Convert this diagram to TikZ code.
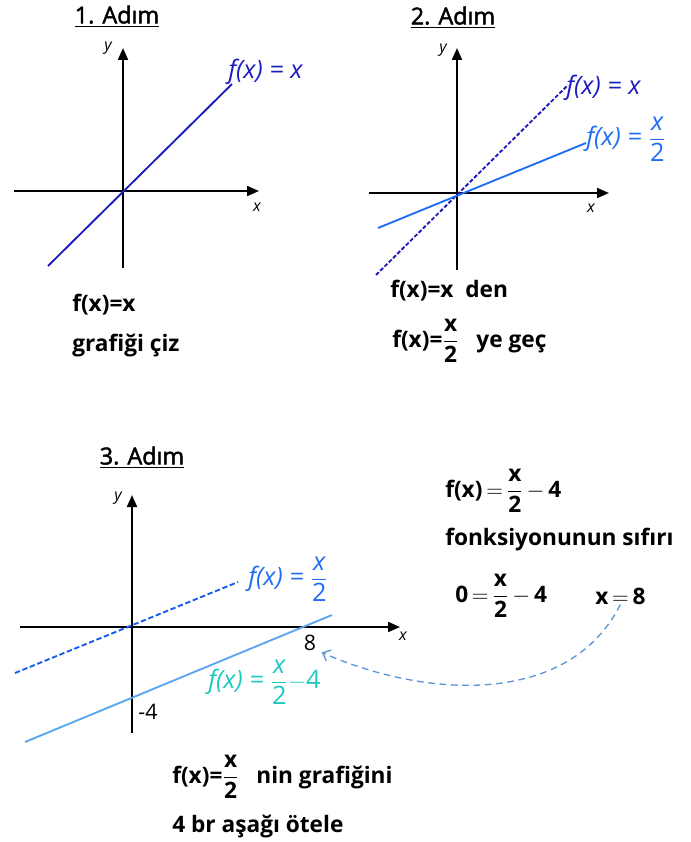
\documentclass[tikz,border=0pt]{standalone}
\usepackage{amsmath}
\usepackage{fontspec}
\setmainfont{Open Sans}
\newfontfamily\titlefont{Open Sans}[FakeBold=2]
\usepackage{tikz}
\usetikzlibrary{arrows.meta, positioning, calc}
\definecolor{graphnavy}{RGB}{28, 28, 190}
\definecolor{graphblue}{RGB}{30, 110, 245}
\definecolor{graphdash}{RGB}{20, 90, 240}
\definecolor{graphsky}{RGB}{90, 165, 240}
\definecolor{graphteal}{RGB}{30, 200, 190}
\definecolor{hintblue}{RGB}{90, 150, 215}
\newcommand{\halfx}{\ensuremath{\dfrac{\text{x}}{\text{2}}}}
\newcommand{\halfxit}{\ensuremath{\dfrac{\text{x}}{\text{\upshape 2}}}}

\begin{document}
\begin{tikzpicture}[
    x=0.75pt, y=-0.75pt,
    axis/.style={line width=1.5pt, -{Triangle[length=9pt, width=7.5pt]}},
    graph/.style={line width=1.4pt},
    title/.style={font=\fontsize{17.5}{20}\titlefont, inner sep=1pt},
    note/.style={font=\fontsize{17}{20}\selectfont\bfseries, anchor=west, inner sep=0pt},
    curvelabel/.style={font=\fontsize{19}{22}\selectfont\itshape, anchor=west, inner sep=0pt},
    axislabel/.style={font=\fontsize{12}{14}\selectfont\itshape, inner sep=0pt},
    ticklabel/.style={font=\fontsize{16}{18}\selectfont, inner sep=1pt}
]
    \useasboundingbox (0,0) rectangle (691,842);

    % Step 1: f(x)=x
    \node[title] (step1) at (117,17) {\underline{1. Adım}};
    \begin{scope}[shift={(123,191)}]
        \draw[axis] (-109,0) -- (136,0);
        \draw[axis] (0,77) -- (0,-143);
        \node[axislabel] (xlab1) at (134,16) {x};
        \node[axislabel] (ylab1) at (-15,-143) {y};
        \draw[graph, graphnavy] (-75,75) -- (109,-107);
        \node[curvelabel, graphnavy] (fx1) at (105,-119) {f(x) = x};
    \end{scope}
    \node[note] (hint1a) at (72,305) {f(x)=x};
    \node[note] (hint1b) at (72,345) {grafiği çiz};

    % Step 2: f(x)=x -> f(x)=x/2
    \node[title] (step2) at (453,18) {\underline{2. Adım}};
    \begin{scope}[shift={(457,193)}]
        \draw[axis] (-88,0) -- (152,0);
        \draw[axis] (0,77) -- (0,-145);
        \node[axislabel] (xlab2) at (134,15) {x};
        \node[axislabel] (ylab2) at (-14,-143) {y};
        \draw[graph, graphnavy, dash pattern=on 3pt off 1.5pt] (-81,82) -- (111,-108);
        \draw[graph, graphblue] (-79,35) -- (129,-50);
        \node[curvelabel, graphnavy] (fx2) at (109,-105) {f(x) = x};
        \node[curvelabel, graphblue] (fx2half) at (129,-54) {f(x) = \halfxit};
    \end{scope}
    \node[note] (hint2a) at (390,291) {f(x)=x\ \ den};
    \node[note] (hint2b) at (392,341) {f(x)=\halfx\ \ \ ye geç};

    % Step 3: shift down by 4
    \node[title] (step3) at (142,458) {\underline{3. Adım}};
    \begin{scope}[shift={(132,627)}]
        \draw[axis] (-112,0) -- (268,0);
        \draw[axis] (0,106) -- (0,-132);
        \node[axislabel] (xlab3) at (271,9) {x};
        \node[axislabel] (ylab3) at (-14,-129) {y};
        \draw[graph, graphdash, dash pattern=on 4pt off 2pt] (-117,46) -- (106,-45);
        \draw[graph, graphsky] (-107,115) -- (200,-12);
        \node[ticklabel] (eight) at (178,16) {8};
        \node[ticklabel] (minusfour) at (16,85) {-4};
        \node[curvelabel, graphblue] (fx3half) at (116,-48) {f(x) = \halfxit};
        \node[curvelabel, graphteal] (fx3shift) at (76,55) {f(x) = \halfxit$-$\upshape 4};
    \end{scope}

    % Zero of the shifted function
    \node[note] (zero1) at (445,491) {f(x)\,$=$\,\halfx\,$-$\,4};
    \node[note] (zero2) at (445,540) {fonksiyonunun sıfırı};
    \node[note] (zero3) at (455,596) {0\,$=$\,\halfx\,$-$\,4};
    \node[note] (xeq) at (595,596) {x\,$=$\,8};
    \draw[hintblue, line width=1pt, dash pattern=on 5pt off 3.5pt, -{Straight Barb[length=5pt, width=9pt]}]
        (xeq.south) .. controls (570,705) and (430,700) .. ([xshift=3pt]eight.south east);

    \node[note] (hint3a) at (172,777) {f(x)=\halfx\ \ \ nin grafiğini};
    \node[note] (hint3b) at (172,826) {4 br aşağı ötele};
\end{tikzpicture}
\end{document}
